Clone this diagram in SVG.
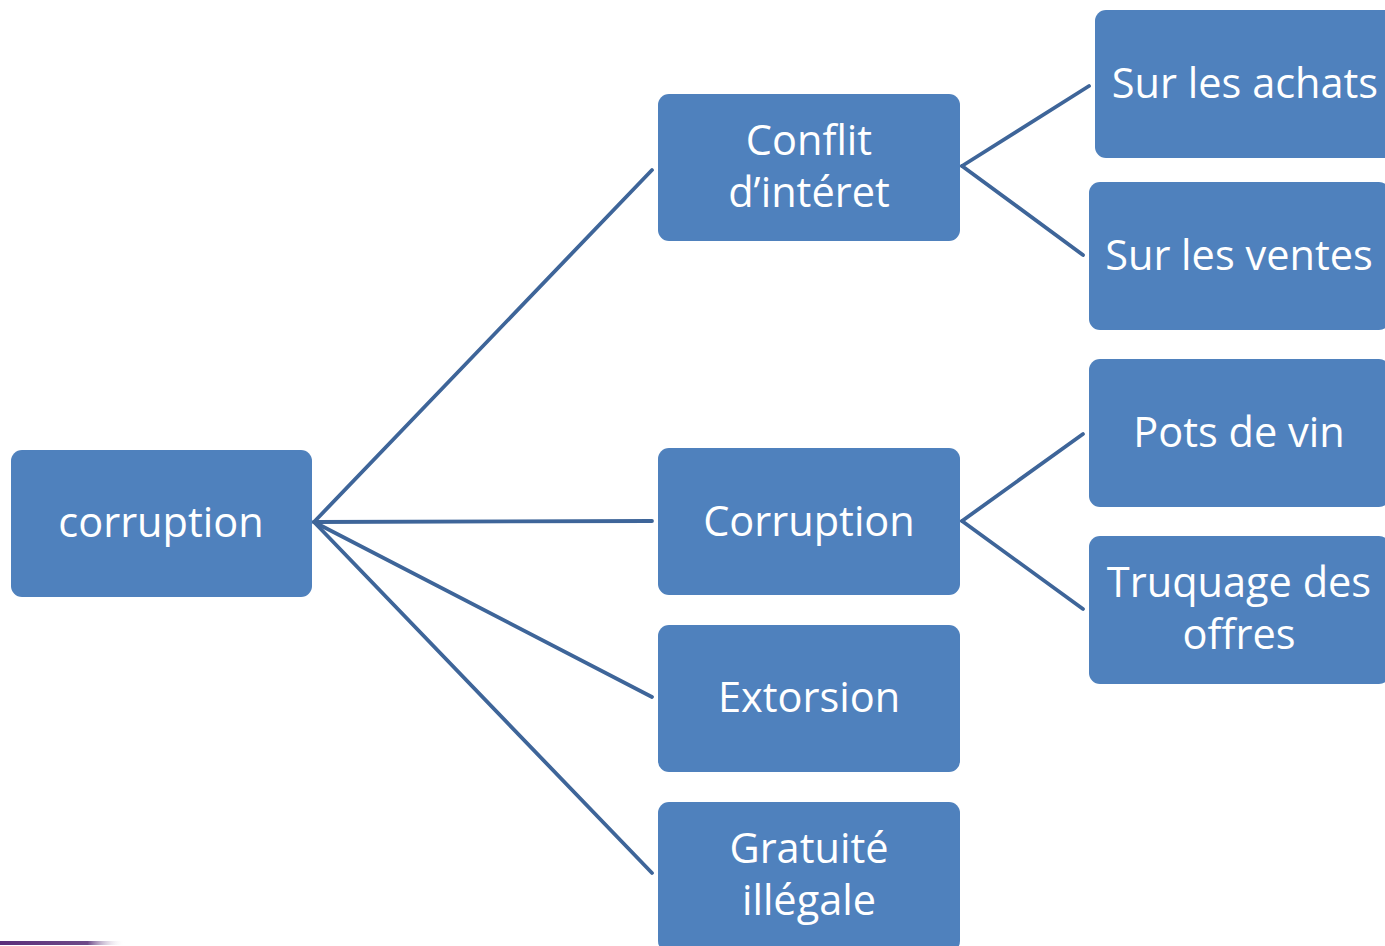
<svg xmlns="http://www.w3.org/2000/svg" width="1385" height="946" viewBox="0 0 1385 946">
  <style>
    .box { fill: #4F81BD; }
    .lbl { fill: #ffffff; font-family: "Open Sans", "Noto Sans", "Liberation Sans", sans-serif; font-size: 41.5px; text-anchor: middle; }
    .link { stroke: #3E6599; stroke-width: 3.8; fill: none; stroke-linecap: round; }
  </style>
  <defs>
    <linearGradient id="barFade" x1="0" y1="0" x2="1" y2="0">
      <stop offset="0" stop-color="#5B2E7A"/>
      <stop offset="0.7" stop-color="#6E4A88"/>
      <stop offset="1" stop-color="#ffffff" stop-opacity="0"/>
    </linearGradient>
  </defs>
  <rect width="1385" height="946" fill="#ffffff"/>

  <!-- connectors -->
  <g id="connectors">
    <line class="link" x1="314" y1="522" x2="652" y2="170"/>
    <line class="link" x1="314" y1="522" x2="652" y2="521"/>
    <line class="link" x1="314" y1="522" x2="652" y2="697"/>
    <line class="link" x1="314" y1="522" x2="652" y2="873"/>
    <line class="link" x1="962" y1="166" x2="1089" y2="86"/>
    <line class="link" x1="962" y1="166" x2="1083" y2="255"/>
    <line class="link" x1="962" y1="521" x2="1083" y2="434"/>
    <line class="link" x1="962" y1="521" x2="1083" y2="609"/>
  </g>

  <g id="root">
    <rect class="box" x="11" y="450" width="301" height="147" rx="11"/>
    <text class="lbl" x="161" y="537">corruption</text>
  </g>

  <g id="conflit">
    <rect class="box" x="658" y="94" width="302" height="147" rx="11"/>
    <text class="lbl" x="809" y="155">Conflit</text>
    <text class="lbl" x="809" y="207">d’intéret</text>
  </g>

  <g id="corruption-active">
    <rect class="box" x="658" y="448" width="302" height="147" rx="11"/>
    <text class="lbl" x="809" y="536">Corruption</text>
  </g>

  <g id="extorsion">
    <rect class="box" x="658" y="625" width="302" height="147" rx="11"/>
    <text class="lbl" x="809" y="712">Extorsion</text>
  </g>

  <g id="gratuite">
    <rect class="box" x="658" y="802" width="302" height="150" rx="11"/>
    <text class="lbl" x="809" y="863">Gratuité</text>
    <text class="lbl" x="809" y="915">illégale</text>
  </g>

  <g id="achats">
    <rect class="box" x="1095" y="10" width="301" height="148" rx="11"/>
    <text class="lbl" x="1245" y="98">Sur les achats</text>
  </g>

  <g id="ventes">
    <rect class="box" x="1089" y="182" width="301" height="148" rx="11"/>
    <text class="lbl" x="1239" y="270">Sur les ventes</text>
  </g>

  <g id="pots">
    <rect class="box" x="1089" y="359" width="301" height="148" rx="11"/>
    <text class="lbl" x="1239" y="447">Pots de vin</text>
  </g>

  <g id="truquage">
    <rect class="box" x="1089" y="536" width="301" height="148" rx="11"/>
    <text class="lbl" x="1239" y="597">Truquage des</text>
    <text class="lbl" x="1239" y="649">offres</text>
  </g>

  <!-- footer accent bar -->
  <rect x="0" y="941" width="125" height="4" fill="url(#barFade)"/>
</svg>
